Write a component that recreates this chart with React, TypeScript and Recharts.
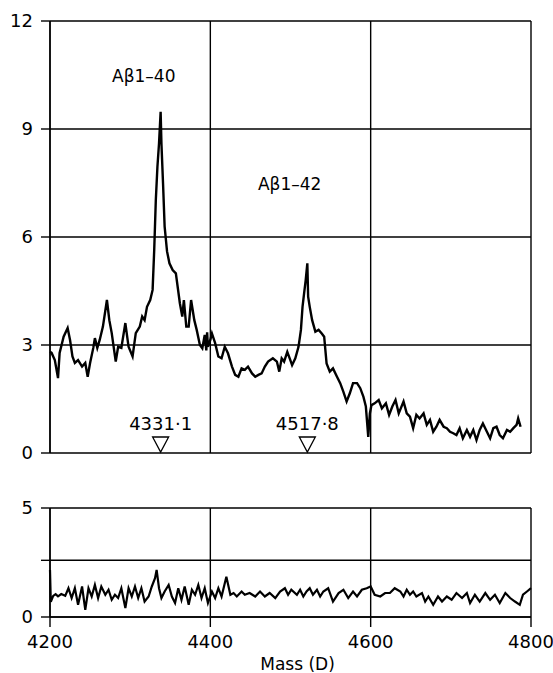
import { LineChart, Line, XAxis, YAxis, CartesianGrid, ReferenceDot } from 'recharts'

// upper trace: serum sample, mass (D) vs intensity
const topMass = [
  4200, 4202, 4206, 4210, 4212, 4217, 4222, 4225, 4228, 4231, 4235, 4240, 4244, 4247, 4250, 4254, 4256, 4259,
  4262, 4266, 4271, 4274, 4277, 4282, 4285, 4289, 4294, 4298, 4303, 4307, 4312, 4315, 4318, 4321, 4325, 4328,
  4330, 4332, 4334, 4336, 4338, 4339, 4341, 4343, 4346, 4349, 4353, 4357, 4362, 4365, 4367, 4370, 4373, 4376,
  4380, 4383, 4387, 4390, 4393, 4395, 4396, 4397, 4400, 4402, 4406, 4410, 4414, 4418, 4422, 4427, 4431, 4435,
  4439, 4443, 4447, 4452, 4456, 4460, 4464, 4468, 4472, 4478, 4483, 4486, 4489, 4492, 4496, 4499, 4502, 4506,
  4510, 4513, 4515, 4517, 4519, 4521, 4522, 4524, 4527, 4531, 4535, 4539, 4542, 4545, 4549, 4553, 4558, 4562,
  4566, 4570, 4574, 4578, 4583, 4587, 4591, 4594, 4597, 4599, 4601, 4605, 4610, 4614, 4619, 4623, 4627, 4631,
  4635, 4641, 4645, 4649, 4653, 4657, 4661, 4666, 4670, 4674, 4678, 4682, 4686, 4691, 4695, 4699, 4703, 4707,
  4711, 4715, 4720, 4724, 4728, 4732, 4736, 4740, 4745, 4749, 4753, 4757, 4761, 4765, 4770, 4774, 4778, 4782,
  4784, 4787,
]
const topIntensity = [
  2.81, 2.78, 2.58, 2.08, 2.78, 3.23, 3.47, 3.14, 2.68, 2.5, 2.58, 2.4, 2.5, 2.12, 2.5, 2.92, 3.19, 2.92,
  3.14, 3.51, 4.25, 3.69, 3.33, 2.54, 2.95, 2.92, 3.61, 2.95, 2.68, 3.33, 3.51, 3.79, 3.69, 4.06, 4.25, 4.53,
  5.64, 7.03, 7.95, 8.6, 9.48, 8.6, 7.49, 6.29, 5.6, 5.27, 5.08, 4.99, 4.16, 3.79, 4.25, 3.51, 3.51, 4.25,
  3.69, 3.42, 3.0, 2.91, 3.28, 2.85, 3.35, 2.95, 3.14, 3.32, 3.05, 2.68, 2.63, 2.95, 2.77, 2.4, 2.17, 2.12,
  2.35, 2.31, 2.4, 2.21, 2.12, 2.17, 2.21, 2.4, 2.54, 2.63, 2.54, 2.26, 2.63, 2.54, 2.81, 2.63, 2.44, 2.63,
  2.95, 3.42, 4.06, 4.44, 4.81, 5.27, 4.34, 4.06, 3.69, 3.37, 3.42, 3.32, 3.23, 2.49, 2.26, 2.35, 2.12, 1.94,
  1.7, 1.43, 1.66, 1.94, 1.94, 1.8, 1.56, 1.29, 0.45, 1.1, 1.33, 1.38, 1.47, 1.24, 1.38, 1.06, 1.29, 1.47,
  1.1, 1.43, 1.1, 1.01, 0.69, 1.06, 0.96, 1.1, 0.78, 0.92, 0.59, 0.73, 0.92, 0.73, 0.69, 0.59, 0.55, 0.5,
  0.69, 0.41, 0.64, 0.45, 0.64, 0.36, 0.64, 0.82, 0.59, 0.41, 0.69, 0.73, 0.5, 0.41, 0.64, 0.59, 0.69, 0.78,
  0.96, 0.73,
]

// lower trace: control
const bottomMass = [
  4200, 4201, 4204, 4207, 4210, 4214, 4219, 4223, 4227, 4231, 4235, 4240, 4244, 4248, 4252, 4256, 4260, 4264,
  4269, 4273, 4277, 4281, 4285, 4289, 4294, 4298, 4302, 4306, 4310, 4314, 4318, 4323, 4327, 4331, 4333, 4336,
  4339, 4343, 4348, 4352, 4356, 4360, 4364, 4368, 4373, 4377, 4381, 4385, 4389, 4393, 4397, 4402, 4406, 4410,
  4414, 4420, 4425, 4429, 4433, 4439, 4443, 4449, 4456, 4462, 4468, 4474, 4481, 4487, 4493, 4497, 4501, 4508,
  4512, 4516, 4520, 4524, 4528, 4533, 4537, 4541, 4547, 4553, 4560, 4566, 4572, 4578, 4583, 4589, 4595, 4600,
  4605, 4612, 4618, 4624, 4630, 4637, 4641, 4645, 4649, 4653, 4657, 4664, 4668, 4672, 4678, 4684, 4689, 4695,
  4701, 4707, 4714, 4720, 4724, 4730, 4736, 4743, 4749, 4755, 4761, 4768, 4774, 4780, 4786, 4790, 4795, 4800,
]
const bottomIntensity = [
  2.16, 0.7, 0.97, 1.05, 0.95, 1.05, 0.97, 1.32, 0.87, 1.32, 0.56, 1.4, 0.33, 1.32, 0.94, 1.47, 0.87, 1.4,
  1.02, 1.25, 0.79, 1.02, 0.87, 1.32, 0.41, 1.32, 0.94, 1.4, 0.87, 1.32, 0.71, 0.94, 1.4, 1.78, 2.16, 1.32,
  0.87, 1.17, 1.47, 0.94, 0.64, 1.32, 0.79, 1.4, 0.56, 1.25, 1.02, 1.47, 0.87, 1.32, 0.64, 1.17, 0.87, 1.32,
  0.94, 1.85, 1.02, 1.1, 0.94, 1.17, 1.02, 1.1, 0.94, 1.17, 0.94, 1.1, 0.87, 1.17, 1.32, 1.02, 1.25, 1.02,
  1.25, 0.94, 1.17, 1.32, 1.02, 1.25, 0.94, 1.17, 1.32, 0.71, 1.1, 1.25, 0.87, 1.17, 0.94, 1.25, 1.32, 1.4,
  1.02, 0.94, 1.1, 1.1, 1.32, 1.17, 0.94, 1.25, 1.02, 1.17, 0.94, 1.1, 0.71, 0.94, 0.56, 0.94, 0.71, 0.94,
  0.79, 1.1, 0.87, 1.1, 0.64, 1.02, 0.71, 1.1, 0.79, 1.02, 0.64, 1.1, 0.87, 0.71, 0.56, 1.02, 1.17, 1.32,
]

const massTicks = [4200, 4400, 4600, 4800]
const topTicks = [0, 3, 6, 9, 12]
const bottomTicks = [0, 2.6, 5]

const peakNames = ['Aβ1–40', 'Aβ1–42']
const peakNameMass = [4317, 4499]
const peakNameY = [10.47, 7.47]
const markerLabels = ['4331·1', '4517·8']
const markerMass = [4338, 4521]

const font = '"DejaVu Sans", sans-serif'
const tickStyle = { fill: '#000', fontSize: 18, fontFamily: font }

export default function App() {
  const topData = topMass.map((m, i) => ({ mass: m, v: topIntensity[i] }))
  const bottomData = bottomMass.map((m, i) => ({ mass: m, v: bottomIntensity[i] }))

  return (
    <div style={{ position: 'absolute', left: 0, top: 0, width: 553, height: 673, background: '#fff' }}>
      <LineChart width={553} height={470} data={topData} margin={{ top: 21, right: 22, bottom: 17, left: 0 }}>
        <CartesianGrid stroke="#000" strokeWidth={1.4} />
        <XAxis dataKey="mass" type="number" domain={[4200, 4800]} ticks={massTicks} hide />
        <YAxis
          domain={[0, 12]}
          ticks={topTicks}
          width={50}
          tickSize={9}
          tickMargin={8}
          stroke="#000"
          strokeWidth={1.4}
          tick={tickStyle}
          interval={0}
        />
        <Line
          type="linear"
          dataKey="v"
          stroke="#000"
          strokeWidth={2.4}
          dot={false}
          isAnimationActive={false}
        />
        {peakNames.map((name, i) => (
          <ReferenceDot
            key={name}
            x={peakNameMass[i]}
            y={peakNameY[i]}
            r={0}
            shape={(p: any) => (
              <text x={p.cx} y={p.cy} textAnchor="middle" dominantBaseline="central" fontSize={17} fontFamily={font} fill="#000">
                {name}
              </text>
            )}
          />
        ))}
        {markerLabels.map((lab, i) => (
          <ReferenceDot
            key={lab}
            x={markerMass[i]}
            y={0}
            r={0}
            shape={(p: any) => (
              <g>
                <path
                  d={`M${p.cx - 8},${p.cy - 16}L${p.cx + 8},${p.cy - 16}L${p.cx},${p.cy - 1}Z`}
                  fill="#fff"
                  stroke="#000"
                  strokeWidth={1.3}
                />
                <text x={p.cx} y={p.cy - 30} textAnchor="middle" dominantBaseline="central" fontSize={18} fontFamily={font} fill="#000">
                  {lab}
                </text>
              </g>
            )}
          />
        ))}
      </LineChart>
      <LineChart width={553} height={203} data={bottomData} margin={{ top: 38, right: 22, bottom: 4, left: 0 }}>
        <CartesianGrid stroke="#000" strokeWidth={1.4} />
        <XAxis
          dataKey="mass"
          type="number"
          domain={[4200, 4800]}
          ticks={massTicks}
          height={52}
          tickSize={10}
          tickMargin={8}
          stroke="#000"
          strokeWidth={1.4}
          tick={tickStyle}
          interval={0}
          label={{ value: 'Mass (D)', position: 'insideBottom', offset: -1, dx: 7, fill: '#000', fontSize: 17, fontFamily: font }}
        />
        <YAxis
          domain={[0, 5]}
          ticks={bottomTicks}
          width={50}
          tickSize={9}
          tickMargin={8}
          stroke="#000"
          strokeWidth={1.4}
          tick={tickStyle}
          interval={0}
          tickFormatter={(v: number) => (v === 2.6 ? '' : String(v))}
        />
        <Line
          type="linear"
          dataKey="v"
          stroke="#000"
          strokeWidth={2.2}
          dot={false}
          isAnimationActive={false}
        />
      </LineChart>
    </div>
  )
}
